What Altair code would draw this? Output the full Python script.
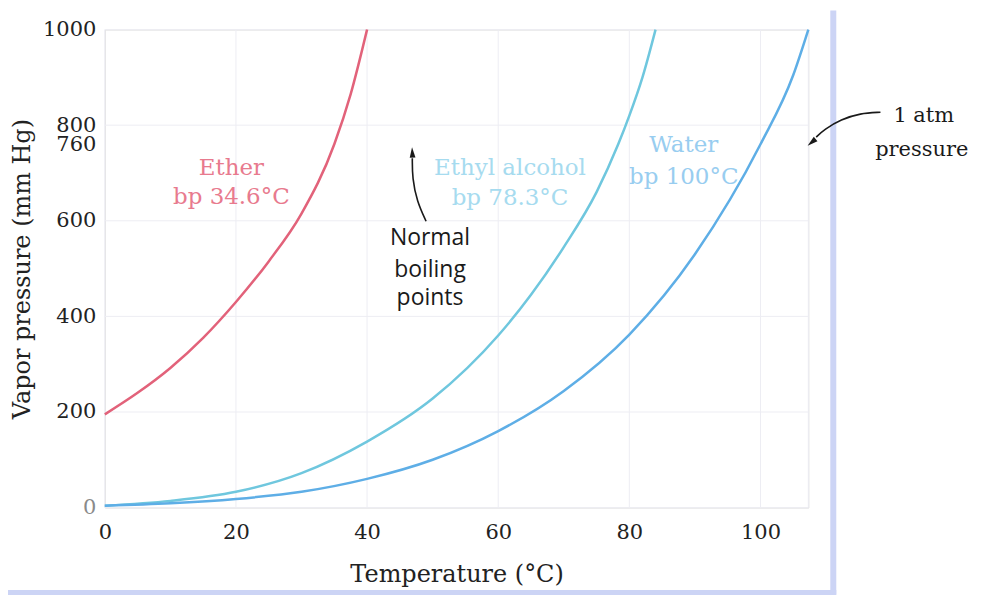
import altair as alt
import pandas as pd

# ---- data ----
substances = ["Ether", "Ethyl alcohol", "Water"]
line_colors = ["#e2627a", "#6fc7de", "#5eaee6"]

ether_t = [0, 5, 10, 15, 20, 25, 30, 35, 37.5, 40]
ether_p = [195, 240, 292, 355, 430, 515, 615, 760, 865, 1000]

ethanol_t = [0, 10, 20, 30, 40, 50, 60, 65, 70, 75, 78.3, 80, 82, 84]
ethanol_p = [4, 14, 33, 72, 138, 228, 360, 445, 545, 660, 760, 820, 900, 1000]

water_t = [0, 10, 20, 30, 40, 50, 60, 70, 80, 90, 100, 105, 107.3]
water_p = [4, 9, 18, 33, 60, 100, 160, 244, 362, 530, 760, 905, 1000]

x_ticks = [0, 20, 40, 60, 80, 100]
y_ticks = [0, 200, 400, 600, 760, 800, 1000]
grid_x = [0, 20, 40, 60, 80, 100, 107.3]
grid_y = [0, 200, 400, 600, 800, 1000]

label_text = ["Ether", "bp 34.6°C", "Ethyl alcohol", "bp 78.3°C", "Water", "bp 100°C"]
label_t = [19.3, 19.3, 61.8, 61.8, 88.3, 88.3]
label_p = [710, 649, 710, 647, 758, 691]
label_color = ["#e87a8e", "#e87a8e", "#a6dbef", "#a6dbef", "#98cdf0", "#98cdf0"]

normal_text = ["Normal", "boiling", "points"]
normal_t = [49.6, 49.6, 49.6]
normal_p = [564, 497, 438]

atm_text = ["1 atm", "pressure"]
atm_t = [124.9, 124.6]
atm_p = [820, 747]

arrow1_t = [49.0, 47.6, 46.9, 46.9]
arrow1_p = [599, 641, 689, 731]
arrow2_t = [118.3, 115.2, 112.3, 109.7, 108.5]
arrow2_p = [827, 825, 812, 791, 775]
head_t = [46.9, 107.8]
head_p = [743, 764]
head_angle = [357, 230]

# ---- tables ----
rows = []
for name, ts, ps in [("Ether", ether_t, ether_p),
                     ("Ethyl alcohol", ethanol_t, ethanol_p),
                     ("Water", water_t, water_p)]:
    for t, p in zip(ts, ps):
        rows.append({"substance": name, "T": t, "P": p})
curves = pd.DataFrame(rows)

labels = pd.DataFrame({"text": label_text, "T": label_t, "P": label_p, "c": label_color})
normal = pd.DataFrame({"text": normal_text, "T": normal_t, "P": normal_p})
atm = pd.DataFrame({"text": atm_text, "T": atm_t, "P": atm_p})
arrows = pd.DataFrame(
    [{"a": "n", "i": i, "T": t, "P": p} for i, (t, p) in enumerate(zip(arrow1_t, arrow1_p))]
    + [{"a": "atm", "i": i, "T": t, "P": p} for i, (t, p) in enumerate(zip(arrow2_t, arrow2_p))]
)
heads = pd.DataFrame({"T": head_t, "P": head_p, "ang": head_angle})

xs = alt.Scale(domain=[0, 107.3], nice=False, zero=False)
ys = alt.Scale(domain=[0, 1000], nice=False, zero=False)

SERIF = "DejaVu Serif"
SANS = "Open Sans"
GRID = "#ededf3"

vgrid = alt.Chart(pd.DataFrame({"gx": grid_x})).mark_rule(color=GRID, strokeWidth=1).encode(
    x=alt.X("gx:Q", scale=xs))
hgrid = alt.Chart(pd.DataFrame({"gy": grid_y})).mark_rule(color=GRID, strokeWidth=1).encode(
    y=alt.Y("gy:Q", scale=ys))

one = pd.DataFrame({"k": [0]})
frame_r = alt.Chart(one).mark_rule(color="#ccd4f5", strokeWidth=6).encode(
    x=alt.value(730), y=alt.value(-19), y2=alt.value(566))
frame_b = alt.Chart(one).mark_rule(color="#ccd4f5", strokeWidth=5).encode(
    x=alt.value(-105), x2=alt.value(733), y=alt.value(564))

lines = alt.Chart(curves).mark_line(strokeWidth=2.5, interpolate="monotone").encode(
    x=alt.X("T:Q", scale=xs,
            axis=alt.Axis(values=x_ticks, title="Temperature (°C)", grid=False, domain=False,
                          ticks=False, labelPadding=14, titlePadding=20, labelFontSize=21,
                          titleFontSize=24, labelFont=SERIF, titleFont=SERIF, format="d",
                          labelFlush=False,
                          titleFontWeight="normal", labelColor="#222222", titleColor="#222222")),
    y=alt.Y("P:Q", scale=ys,
            axis=alt.Axis(values=y_ticks, title="Vapor pressure (mm Hg)", grid=False, domain=False,
                          ticks=False, labelPadding=9, titlePadding=8, labelFontSize=21,
                          titleFontSize=24, labelFont=SERIF, titleFont=SERIF, labelOverlap=False,
                          format="d", titleFontWeight="normal", titleColor="#222222",
                          labelColor={"condition": {"test": "datum.value === 0", "value": "#8a8a8a"},
                                      "value": "#222222"})),
    color=alt.Color("substance:N", scale=alt.Scale(domain=substances, range=line_colors), legend=None),
)

lab = alt.Chart(labels).mark_text(font=SERIF, fontSize=23, baseline="middle", align="center").encode(
    x=alt.X("T:Q", scale=xs), y=alt.Y("P:Q", scale=ys), text="text:N",
    color=alt.Color("c:N", scale=None))

norm = alt.Chart(normal).mark_text(font=SANS, fontSize=23, baseline="middle", align="center",
                                   color="#1a1a1a").encode(
    x=alt.X("T:Q", scale=xs), y=alt.Y("P:Q", scale=ys), text="text:N")

atm_lab = alt.Chart(atm).mark_text(font=SERIF, fontSize=21, baseline="middle", align="center",
                                   color="#1a1a1a").encode(
    x=alt.X("T:Q", scale=xs), y=alt.Y("P:Q", scale=ys), text="text:N")

arr = alt.Chart(arrows).mark_line(color="#1a1a1a", strokeWidth=1.6, interpolate="basis").encode(
    x=alt.X("T:Q", scale=xs), y=alt.Y("P:Q", scale=ys), detail="a:N", order="i:Q")

hd = alt.Chart(heads).mark_point(shape="M0,-1L0.55,1L-0.55,1Z", filled=True, size=110,
                                 color="#1a1a1a", opacity=1).encode(
    x=alt.X("T:Q", scale=xs), y=alt.Y("P:Q", scale=ys), angle=alt.Angle("ang:Q", scale=None))

chart = alt.layer(frame_r, frame_b, vgrid, hgrid, lines, lab, norm, atm_lab, arr, hd).properties(
    width=705, height=479,
    padding={"left": 97, "top": 21, "right": 165, "bottom": 88},
    autosize=alt.AutoSizeParams(type="none"),
).configure_view(stroke=None).configure(background="white")

chart.save("out.html", embed_options={"renderer": "svg", "actions": False})
